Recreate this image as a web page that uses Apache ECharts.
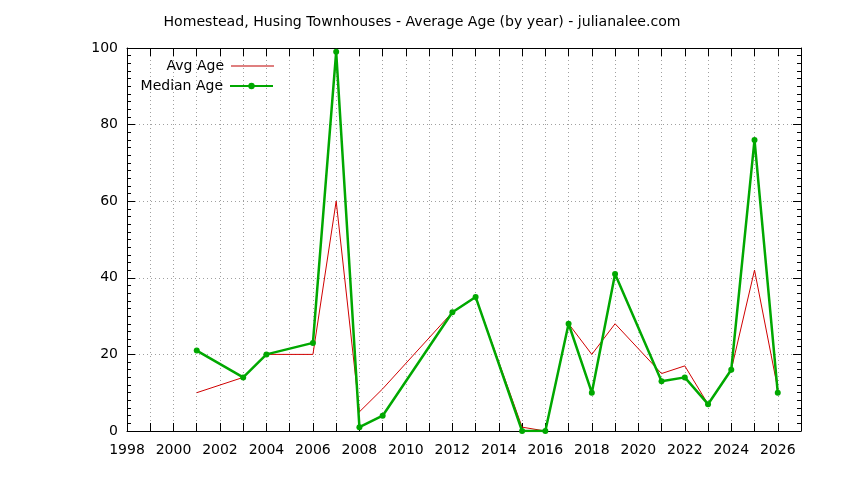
<!DOCTYPE html>
<html>
<head>
<meta charset="utf-8">
<script src="https://cdn.jsdelivr.net/npm/echarts@6/dist/echarts.min.js"></script>
<style>
  html, body { margin: 0; padding: 0; background: #fff; }
  #chart { width: 844px; height: 480px; }
</style>
</head>
<body>
<div id="chart"></div>
<script>
// Sale years and ages
const years = [2001, 2003, 2004, 2006, 2007, 2008, 2009, 2012, 2013, 2015, 2016, 2017, 2018, 2019, 2021, 2022, 2023, 2024, 2025, 2026];
const avgAge = [10, 14, 20, 20, 60, 5, 11, 31, 35, 1, 0, 28, 20, 28, 15, 17, 7, 16, 42, 11];
const medianAge = [21, 14, 20, 23, 99, 1, 4, 31, 35, 0, 0, 28, 10, 41, 13, 14, 7, 16, 76, 10];

const titleText = 'Homestead, Husing Townhouses - Average Age (by year) - julianalee.com';
const FONT = '"DejaVu Sans", sans-serif';

const chart = echarts.init(document.getElementById('chart'));

const gridLine = {
    show: true,
    lineStyle: { color: '#a0a0a0', width: 1, type: [1, 3] }
};

const xAxisBase = {
    type: 'value',
    min: 1998,
    max: 2027,
    interval: 1,
    axisLine: { show: true, onZero: false, lineStyle: { color: '#000', width: 1 } },
    axisTick: { show: true, inside: true, length: 8, lineStyle: { color: '#000' } }
};

const yAxisBase = {
    type: 'value',
    min: 0,
    max: 100,
    interval: 20,
    axisLine: { show: true, onZero: false, lineStyle: { color: '#000', width: 1 } },
    axisTick: { show: true, inside: true, length: 8, lineStyle: { color: '#000' } },
    minorTick: { show: true, splitNumber: 10, length: 4, lineStyle: { color: '#000' } }
};

chart.setOption({
    backgroundColor: '#fff',
    animation: false,
    textStyle: { fontFamily: FONT },
    title: {
        text: titleText,
        left: 'center',
        top: 10,
        textStyle: { fontFamily: FONT, fontSize: 14.1, fontWeight: 'normal', color: '#000' }
    },
    legend: [
        {
            data: [{ name: 'Avg Age', icon: 'rect' }],
            right: 565,
            top: 54,
            align: 'right',
            itemWidth: 43,
            itemHeight: 1,
            textStyle: { fontFamily: FONT, fontSize: 14, color: '#000', padding: [0, 2, 0, 0] }
        },
        {
            data: ['Median Age'],
            right: 565,
            top: 74,
            align: 'right',
            itemWidth: 43,
            itemHeight: 8,
            textStyle: { fontFamily: FONT, fontSize: 14, color: '#000', padding: [0, 2, 0, 0] }
        }
    ],
    grid: { left: 127, right: 43, top: 48, bottom: 49 },
    xAxis: [
        {
            ...xAxisBase,
            position: 'bottom',
            splitLine: gridLine,
            axisLabel: {
                color: '#000',
                fontFamily: FONT,
                fontSize: 14,
                margin: 12,
                formatter: v => (v % 2 === 0 ? String(v) : '')
            }
        },
        {
            ...xAxisBase,
            position: 'top',
            splitLine: { show: false },
            axisLabel: { show: false }
        }
    ],
    yAxis: [
        {
            ...yAxisBase,
            position: 'left',
            splitLine: gridLine,
            axisLabel: { color: '#000', fontFamily: FONT, fontSize: 14, margin: 9 }
        },
        {
            ...yAxisBase,
            position: 'right',
            splitLine: { show: false },
            axisLabel: { show: false }
        }
    ],
    series: [
        {
            name: 'Avg Age',
            type: 'line',
            data: years.map((y, i) => [y, avgAge[i]]),
            symbol: 'none',
            lineStyle: { color: '#d00000', width: 1 },
            itemStyle: { color: '#c00000' },
            z: 2
        },
        {
            name: 'Median Age',
            type: 'line',
            data: years.map((y, i) => [y, medianAge[i]]),
            symbol: 'circle',
            symbolSize: 6,
            lineStyle: { color: '#00a800', width: 2.5 },
            itemStyle: { color: '#00a800' },
            z: 3
        }
    ]
});
</script>
</body>
</html>
